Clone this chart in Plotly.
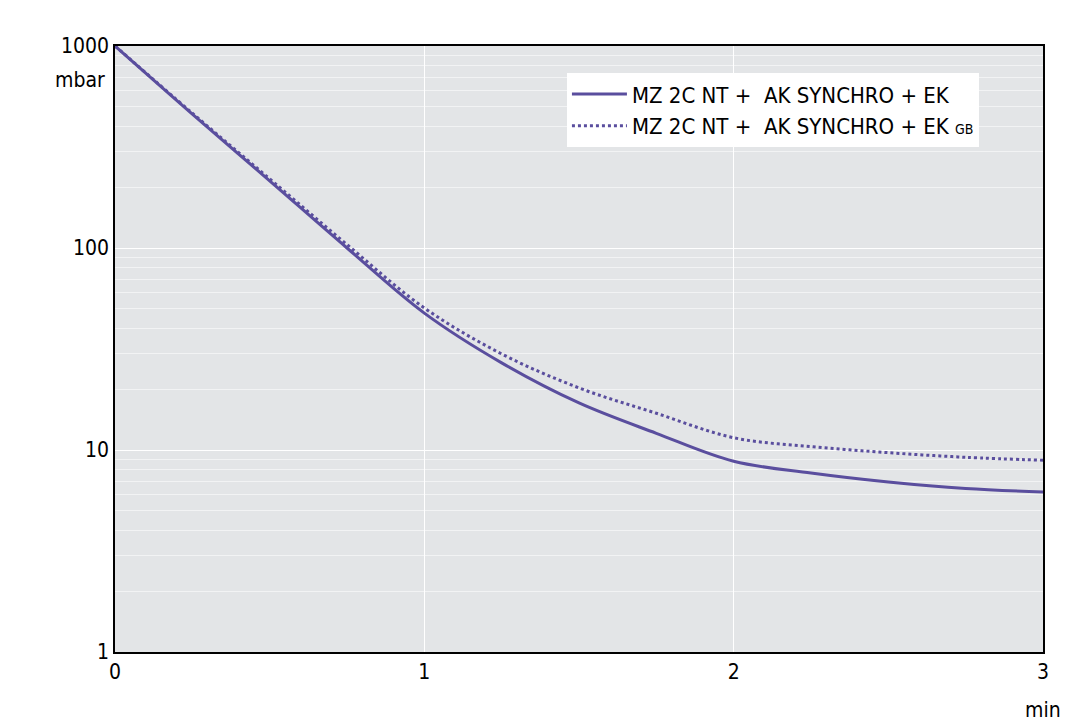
import plotly.graph_objects as go

t = [0, 0.25, 0.5, 0.75, 1.0, 1.25, 1.5, 1.75, 2.0, 2.25, 2.5, 2.75, 3.0]
solid = [1000, 460, 215, 100, 47.6, 27, 17.1, 12.1, 8.8, 7.7, 6.95, 6.45, 6.2]
dotted = [1000, 465, 220, 104, 50.5, 29.9, 20.3, 15.2, 11.5, 10.4, 9.7, 9.2, 8.9]
names = ["MZ 2C NT +  AK SYNCHRO + EK", "MZ 2C NT +  AK SYNCHRO + EK <span style='font-size:14px'>GB</span>"]
color = "#5a4e9e"
font = "DejaVu Sans Condensed, DejaVu Sans, sans-serif"

fig = go.Figure()
fig.add_trace(go.Scatter(x=t, y=solid, mode="lines", name=names[0], line=dict(color=color, width=3, shape="spline")))
fig.add_trace(go.Scatter(x=t, y=dotted, mode="lines", name=names[1], line=dict(color=color, width=3, dash="dot", shape="spline")))

fig.update_layout(
    width=1080, height=721, margin=dict(l=107, r=45, t=38, b=77),
    paper_bgcolor="white", plot_bgcolor="#e3e5e7",
    font=dict(family=font, size=21, color="black"),
    legend=dict(x=0.487, y=0.955, xanchor="left", yanchor="top", bgcolor="white",
                font=dict(size=22), tracegroupgap=0, itemwidth=55),
)
fig.update_xaxes(range=[0, 3], tickvals=[0, 1, 2, 3], showgrid=True, gridcolor="white", gridwidth=1, automargin=False,
                 showline=True, linecolor="black", linewidth=1.5, mirror=True, zeroline=False, ticks="")
fig.update_yaxes(type="log", range=[0, 3], tickvals=[1, 10, 100, 1000], ticktext=["1", "10", "100", "1000"],
                 showgrid=True, gridcolor="white", gridwidth=1, automargin=False,
                 minor=dict(showgrid=True, gridcolor="#f2f3f4", gridwidth=1, tickvals=[v * 10**d for d in range(3) for v in range(2, 10)]),
                 showline=True, linecolor="black", linewidth=1.5, mirror=True, ticks="")
fig.add_annotation(x=0, y=1, xref="paper", yref="paper", xshift=-8, yshift=-20, text="mbar",
                   showarrow=False, xanchor="right", yanchor="top", font=dict(size=21))
fig.add_annotation(x=1, y=0, xref="paper", yref="paper", yshift=-44, text="min",
                   showarrow=False, xanchor="center", yanchor="top", font=dict(size=21))
fig.write_html("out.html")
